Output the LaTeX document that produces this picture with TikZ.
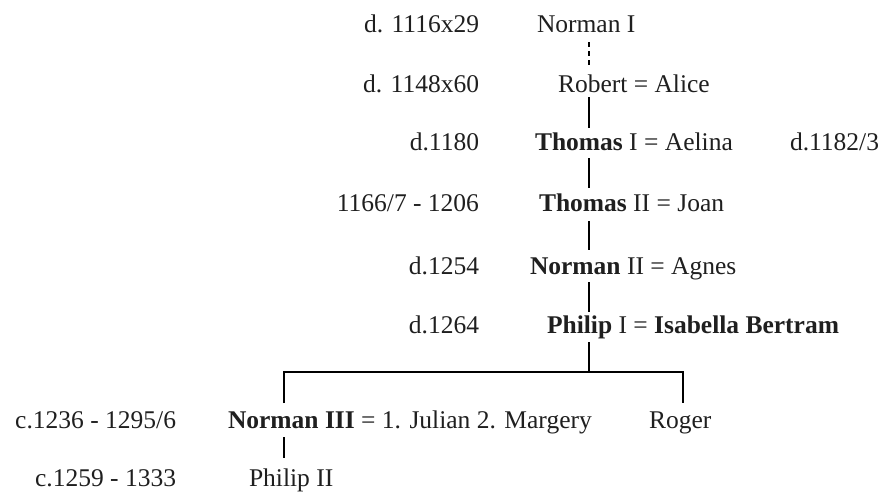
\documentclass[tikz,border=0pt]{standalone}
\usepackage{fontspec}
\setmainfont{Liberation Serif}
\begin{document}
\begin{tikzpicture}[x=1pt,y=-1pt,
  every node/.style={inner sep=0pt, outer sep=0pt, text=black!88, font=\fontsize{25.5}{30}\selectfont},
  pname/.style={anchor=base west},
  pdate/.style={anchor=base east},
  conn/.style={line width=2pt, draw=black},
  dotconn/.style={line width=2pt, draw=black, dash pattern=on 5pt off 4pt}]
\useasboundingbox (0,0) rectangle (887,493);
% dates
\node[pdate] (d1) at (479,32) {d. 1116x29};
\node[pdate] (d2) at (479,92) {d. 1148x60};
\node[pdate] (d3) at (479,150) {d.1180};
\node[pdate] (d4) at (479,211) {1166/7 - 1206};
\node[pdate] (d5) at (479,274) {d.1254};
\node[pdate] (d6) at (479,333) {d.1264};
\node[pdate] (d7) at (176,428) {c.1236 - 1295/6};
\node[pdate] (d8) at (176,486) {c.1259 - 1333};
% names
\node[pname] (n1) at (537,32) {Norman I};
\node[pname] (n2) at (558,92) {Robert = Alice};
\node[pname] (n3) at (535,150) {\textbf{Thomas} I = Aelina};
\node[pname] (d3b) at (790,150) {d.1182/3};
\node[pname] (n4) at (539,211) {\textbf{Thomas} II = Joan};
\node[pname] (n5) at (530,274) {\textbf{Norman} II = Agnes};
\node[pname] (n6) at (547,333) {\textbf{Philip} I = \textbf{Isabella Bertram}};
\node[pname] (n7) at (228,428) {\textbf{Norman III} = 1. Julian 2. Margery};
\node[pname] (n8) at (649,428) {Roger};
\node[pname] (n9) at (249,486) {Philip II};
% connector end points
\coordinate (a1) at (589,42);
\coordinate (b1) at (589,66);
\coordinate (a2) at (589,97);
\coordinate (b2) at (589,128);
\coordinate (a3) at (589,158);
\coordinate (b3) at (589,188);
\coordinate (a4) at (589,221);
\coordinate (b4) at (589,250);
\coordinate (a5) at (589,282);
\coordinate (b5) at (589,312);
\coordinate (a6) at (589,342);
\coordinate (j) at (589,372);
\coordinate (jl) at (284,372);
\coordinate (jr) at (683,372);
\coordinate (bl) at (284,403);
\coordinate (br) at (683,403);
\coordinate (a7) at (284,437);
\coordinate (b7) at (284,458);
% connectors
\draw[dotconn] (a1) -- (b1);
\draw[conn] (a2) -- (b2);
\draw[conn] (a3) -- (b3);
\draw[conn] (a4) -- (b4);
\draw[conn] (a5) -- (b5);
\draw[conn] (a6) -- (j);
\draw[conn] (bl) -- (jl) -- (jr) -- (br);
\draw[conn] (a7) -- (b7);
\end{tikzpicture}
\end{document}
